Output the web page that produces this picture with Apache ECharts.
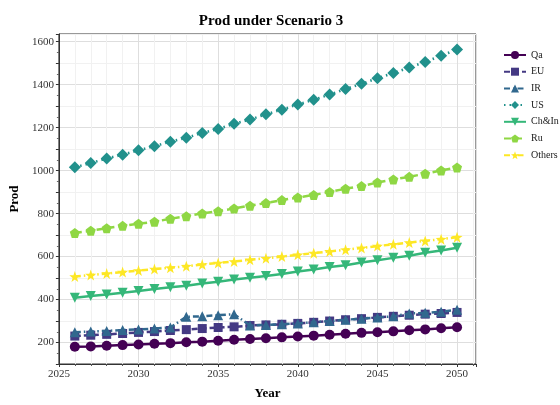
<!DOCTYPE html>
<html>
<head>
<meta charset="utf-8">
<script src="https://cdn.jsdelivr.net/npm/echarts@6/dist/echarts.min.js"></script>
<style>
html,body{margin:0;padding:0;background:#fff;}
#c{width:560px;height:405px;}
</style>
</head>
<body>
<div id="c"></div>
<script>
var years = [2026,2027,2028,2029,2030,2031,2032,2033,2034,2035,2036,2037,2038,2039,2040,2041,2042,2043,2044,2045,2046,2047,2048,2049,2050];
var qa = [180,182,185,188,191,194,197,201,204,208,213,216,220,224,228,232,236,241,245,248,252,257,261,266,271];
var eu = [230,234,238,242,247,251,256,260,265,270,273,279,282,285,289,294,300,306,311,317,322,327,332,335,340];
var ir = [248,251,254,258,261,265,270,320,322,327,332,279,282,285,289,294,300,306,311,317,322,335,338,343,352];
var us = [1016,1035,1057,1074,1095,1114,1135,1153,1175,1194,1218,1238,1262,1284,1308,1330,1354,1380,1404,1430,1454,1480,1506,1535,1564];
var chin = [408,416,423,432,440,449,457,464,475,483,493,501,510,519,531,540,551,560,572,583,594,604,618,628,641];
var ru = [710,720,732,743,753,762,776,788,801,811,824,837,849,863,875,887,901,916,928,945,959,971,986,1001,1015];
var others = [507,514,521,528,535,542,548,555,563,570,577,585,592,600,608,616,624,632,640,649,657,665,673,681,690];
var seriesNames = ['Qa','EU','IR','US','Ch&In','Ru','Others'];
var xTicks = [2025,2030,2035,2040,2045,2050];
var yTicks = [200,400,600,800,1000,1200,1400,1600];

var font = 'Liberation Serif';
var colors = ['#440154','#443983','#31688e','#21918c','#35b779','#8fd744','#fde725'];
var pentagon = 'path://M0,-1 L0.951,-0.309 L0.588,0.809 L-0.588,0.809 L-0.951,-0.309 Z';
var star = 'path://M0,-1 L0.235,-0.324 L0.951,-0.309 L0.380,0.124 L0.588,0.809 L0,0.4 L-0.588,0.809 L-0.380,0.124 L-0.951,-0.309 L-0.235,-0.324 Z';
var invTri = 'path://M-1,-0.9 L1,-0.9 L0,0.9 Z';
var styles = [
  {sym:'circle', size:10, type:'solid'},
  {sym:'rect', size:9, type:[6,3]},
  {sym:'triangle', size:10, type:[6,3,1.5,3]},
  {sym:'diamond', size:12, type:[1.5,4]},
  {sym:invTri, size:10, type:'solid'},
  {sym:pentagon, size:10, type:[7,4]},
  {sym:star, size:11, type:[6,3,1.5,3]}
];
var allData = [qa,eu,ir,us,chin,ru,others];

function pairs(arr){ return years.map(function(y,i){ return [y, arr[i]]; }); }

var series = seriesNames.map(function(n, k){
  return {
    name: n, type: 'line', data: pairs(allData[k]),
    symbol: styles[k].sym, symbolSize: styles[k].size, showSymbol: true,
    lineStyle: {color: colors[k], width: 2.5, type: styles[k].type},
    itemStyle: {color: colors[k]},
    z: 2 + k
  };
});

var chart = echarts.init(document.getElementById('c'), null, {renderer:'canvas'});
chart.setOption({
  animation: false,
  backgroundColor: '#fff',
  color: colors,
  title: {
    text: 'Prod under Scenario 3', left: 266, top: 9, textAlign: 'center',
    textStyle: {fontFamily: font, fontWeight: 'bold', fontSize: 15, color: '#000'}
  },
  legend: {
    orient: 'vertical', left: 498, top: 45, padding: [5,0,5,5],
    itemWidth: 22, itemHeight: 10, itemGap: 6.7,
    data: seriesNames,
    textStyle: {fontFamily: font, fontSize: 10, color: '#222'}
  },
  grid: {left: 58, right: 84, top: 34, bottom: 33.5, show: true, borderColor: '#333', borderWidth: 1, backgroundColor: 'transparent'},
  xAxis: {
    type: 'value', min: 2025, max: 2051.19, interval: 5,
    name: 'Year', nameLocation: 'middle', nameGap: 23,
    nameTextStyle: {fontFamily: font, fontWeight: 'bold', fontSize: 13, color: '#000'},
    axisLine: {show: true, lineStyle: {color: '#333', width: 1}},
    axisTick: {show: true, length: 3, lineStyle: {color: '#333'}},
    minorTick: {show: true, splitNumber: 5, length: 2, lineStyle: {color: '#555'}},
    axisLabel: {fontFamily: font, fontSize: 11, color: '#333', margin: 5,
      formatter: function(v){ return xTicks.indexOf(v) >= 0 ? String(v) : ''; }},
    splitLine: {show: true, lineStyle: {color: '#dedede', width: 1}},
    minorSplitLine: {show: true, lineStyle: {color: '#f1f1f1', width: 1}}
  },
  yAxis: {
    type: 'value', min: 100, max: 1636, interval: 100,
    name: 'Prod', nameLocation: 'middle', nameGap: 34,
    nameTextStyle: {fontFamily: font, fontWeight: 'bold', fontSize: 13, color: '#000'},
    axisLine: {show: true, lineStyle: {color: '#333', width: 1}},
    axisTick: {show: true, length: 3, lineStyle: {color: '#333'}},
    minorTick: {show: true, splitNumber: 2, length: 2, lineStyle: {color: '#666'}},
    axisLabel: {fontFamily: font, fontSize: 11, color: '#333', margin: 5,
      formatter: function(v){ return yTicks.indexOf(v) >= 0 ? String(v) : ''; }},
    splitLine: {show: true, lineStyle: {color: ['#f1f1f1','#dedede'], width: 1}}
  },
  series: series
});
</script>
</body>
</html>
